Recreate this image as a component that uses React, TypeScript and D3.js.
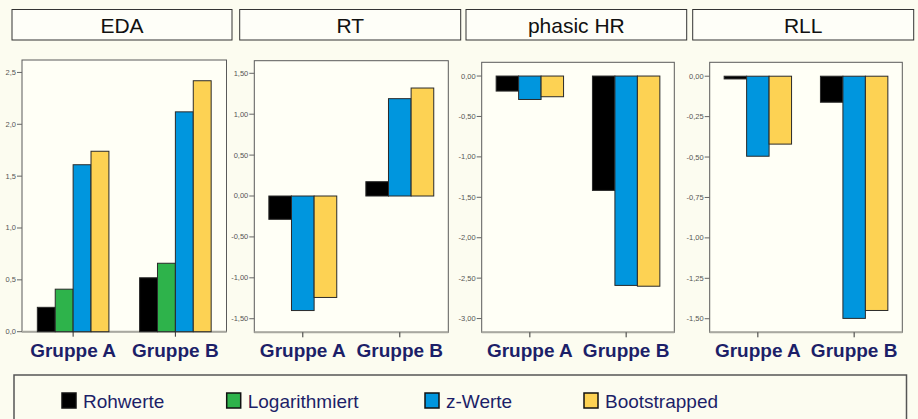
// @ts-nocheck
import React from 'react'
import * as d3 from 'd3'

const groups = ['Gruppe A', 'Gruppe B']
const legendSeries = ['Rohwerte', 'Logarithmiert', 'z-Werte', 'Bootstrapped']

const edaSeries = ['Rohwerte', 'Logarithmiert', 'z-Werte', 'Bootstrapped']
const edaValues = [
  [0.235, 0.52],
  [0.41, 0.66],
  [1.61, 2.12],
  [1.74, 2.42],
]
const edaTicks = [0, 0.5, 1, 1.5, 2, 2.5]
const edaDomain = [0, 2.62]

const rtSeries = ['Rohwerte', 'z-Werte', 'Bootstrapped']
const rtValues = [
  [-0.285, 0.175],
  [-1.4, 1.19],
  [-1.24, 1.32],
]
const rtTicks = [-1.5, -1, -0.5, 0, 0.5, 1, 1.5]
const rtDomain = [-1.666, 1.654]

const hrSeries = ['Rohwerte', 'z-Werte', 'Bootstrapped']
const hrValues = [
  [-0.186, -1.415],
  [-0.29, -2.59],
  [-0.256, -2.6],
]
const hrTicks = [-3, -2.5, -2, -1.5, -1, -0.5, 0]
const hrDomain = [-3.17, 0.17]

const rllSeries = ['Rohwerte', 'z-Werte', 'Bootstrapped']
const rllValues = [
  [-0.017, -0.161],
  [-0.495, -1.498],
  [-0.42, -1.449],
]
const rllTicks = [-1.5, -1.25, -1, -0.75, -0.5, -0.25, 0]
const rllDomain = [-1.584, 0.086]

const colors = d3
  .scaleOrdinal()
  .domain(legendSeries)
  .range(['#000000', '#2eb34b', '#0096de', '#fdd253'])

const locale = d3.formatLocale({ decimal: ',', thousands: '.', grouping: [3], currency: ['', '€'], minus: '-' })

const navy = '#1c1f68'
const font = 'Liberation Sans, Arial, sans-serif'

const panels = [
  { title: 'EDA', series: edaSeries, values: edaValues, ticks: edaTicks, domain: edaDomain, fmt: locale.format('.1f'),
    box: [12, 232], frame: [22, 226.5, 60, 331.7] },
  { title: 'RT', series: rtSeries, values: rtValues, ticks: rtTicks, domain: rtDomain, fmt: locale.format('.2f'),
    box: [239.7, 460.7], frame: [254.3, 448.3, 60.7, 332.3] },
  { title: 'phasic HR', series: hrSeries, values: hrValues, ticks: hrTicks, domain: hrDomain, fmt: locale.format('.2f'),
    box: [466, 686.7], frame: [481.7, 674.3, 62.3, 332.3] },
  { title: 'RLL', series: rllSeries, values: rllValues, ticks: rllTicks, domain: rllDomain, fmt: locale.format('.2f'),
    box: [692.7, 913.7], frame: [709.7, 902.3, 62.3, 332.3] },
]

const Panel = ({ p }) => {
  const [left, right, top, bottom] = p.frame
  const x0 = d3.scaleBand().domain(groups).range([left, right]).paddingInner(0.3).paddingOuter(0.15)
  const x1 = d3.scaleBand().domain(p.series).range([0, x0.bandwidth()])
  const y = d3.scaleLinear().domain(p.domain).range([bottom, top])

  return (
    <g>
      <rect x={p.box[0]} y={9.5} width={p.box[1] - p.box[0]} height={30.5} fill="#fefef8" stroke="#333" strokeWidth={1} />
      <text x={(p.box[0] + p.box[1]) / 2} y={33} textAnchor="middle" fontSize={21} fontFamily={font} fill="#111">
        {p.title}
      </text>

      <rect x={left} y={top} width={right - left} height={bottom - top} fill="#fffff6" stroke="#5a5a5a" strokeWidth={1} />
      <line x1={left} x2={right} y1={bottom} y2={bottom} stroke="#a8a8a0" strokeWidth={2} />

      {p.ticks.map((t) => (
        <g key={t} transform={`translate(0, ${y(t)})`}>
          <line x1={left - 5} x2={left} stroke="#666" strokeWidth={1} />
          <text x={left - 6} dy="0.33em" textAnchor="end" fontSize={7.5} fontFamily={font} fill="#555">
            {p.fmt(t)}
          </text>
        </g>
      ))}

      {groups.map((g, gi) => (
        <g key={g}>
          {p.series.map((s, si) => {
            const v = p.values[si][gi]
            return (
              <rect
                key={s}
                x={x0(g) + x1(s)}
                y={y(Math.max(0, v))}
                width={x1.bandwidth()}
                height={Math.abs(y(v) - y(0))}
                fill={colors(s)}
                stroke="#2a2a2a"
                strokeWidth={1}
              />
            )
          })}
          <line
            x1={x0(g) + x0.bandwidth() / 2}
            x2={x0(g) + x0.bandwidth() / 2}
            y1={bottom}
            y2={bottom + 5}
            stroke="#333"
          />
          <text
            x={x0(g) + x0.bandwidth() / 2}
            y={357}
            textAnchor="middle"
            fontSize={19}
            fontWeight="bold"
            fontFamily={font}
            fill={navy}
          >
            {g}
          </text>
        </g>
      ))}
    </g>
  )
}

const legendX = d3.scaleOrdinal().domain(legendSeries).range([62, 226.7, 425, 584])

export default function App() {
  return (
    <svg width={918} height={419} style={{ position: 'absolute', left: 0, top: 0, background: '#fcfcf0' }}>
      <rect x={0} y={0} width={918} height={419} fill="#fcfcf0" />
      {panels.map((p) => (
        <Panel key={p.title} p={p} />
      ))}
      <rect x={14} y={375} width={892.5} height={60} fill="none" stroke="#555" strokeWidth={1.5} />
      {legendSeries.map((s) => (
        <g key={s} transform={`translate(${legendX(s)}, 393)`}>
          <rect width={14} height={15} fill={colors(s)} stroke="#111" strokeWidth={1.5} />
          <text x={21} y={14.5} fontSize={19} fontFamily={font} fill={navy}>
            {s}
          </text>
        </g>
      ))}
    </svg>
  )
}
